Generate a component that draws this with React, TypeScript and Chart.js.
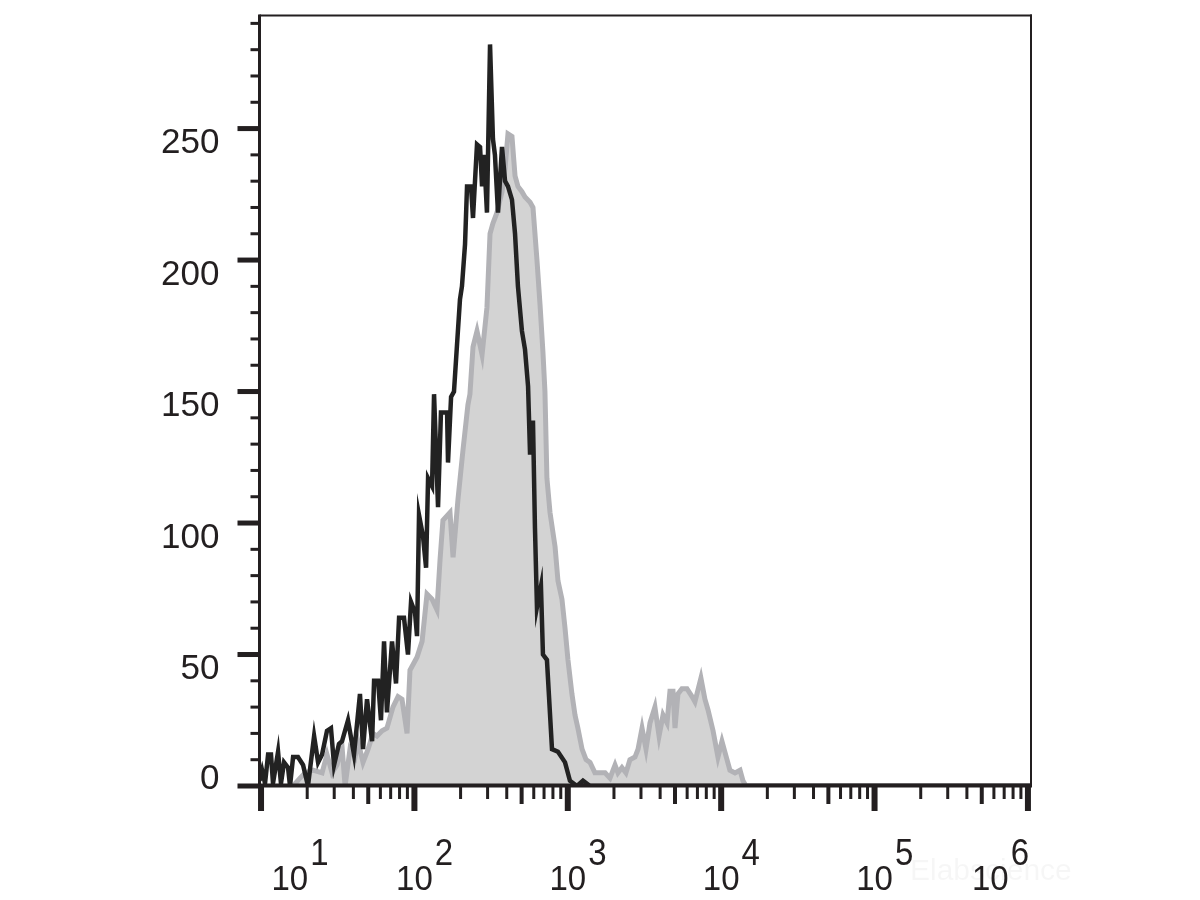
import React, { useEffect, useRef } from "react";
import { Chart, registerables } from "chart.js";

Chart.register(...registerables);

// log10 of fluorescence intensity
const blackLog10FL = [
  0.99, 1.007, 1.026, 1.046, 1.065, 1.078, 1.111, 1.13, 1.15, 1.176, 1.189, 1.209, 1.241, 1.274, 1.306,
  1.346, 1.372, 1.398, 1.43, 1.456, 1.476, 1.508, 1.528, 1.567, 1.606, 1.645, 1.665, 1.691, 1.724, 1.737,
  1.763, 1.782, 1.802, 1.821, 1.854, 1.88, 1.9, 1.932, 1.958, 1.978, 2.004, 2.017, 2.03, 2.056, 2.076,
  2.089, 2.115, 2.128, 2.154, 2.173, 2.213, 2.219, 2.239, 2.258, 2.278, 2.297, 2.31, 2.33, 2.343, 2.369,
  2.382, 2.408, 2.428, 2.441, 2.454, 2.473, 2.493, 2.512, 2.525, 2.545, 2.571, 2.591, 2.61, 2.636, 2.656,
  2.675, 2.701, 2.721, 2.741, 2.754, 2.773, 2.786, 2.799, 2.825, 2.838, 2.864, 2.897, 2.936, 2.982, 3.014,
  3.06, 3.099, 3.145, 6.05,
];
const blackCounts = [
  2, 6, 1, 12, 12, 1, 13, 1, 9, 7, 0, 11, 11, 8, 0,
  19, 9, 12, 21, 22, 8, 16, 17, 25, 12, 35, 14, 33, 17, 40,
  40, 25, 55, 28, 55, 39, 64, 64, 50, 70, 66, 57, 103, 95, 83,
  117, 114, 149, 106, 142, 142, 123, 148, 150, 168, 185, 190, 206, 228, 228,
  216, 244, 243, 228, 240, 218, 282, 246, 240, 218, 243, 230, 228, 223, 210,
  190, 173, 166, 152, 126, 139, 98, 68, 76, 50, 48, 14, 13, 9, 2,
  0, 2, 0, 0,
];

const grayLog10FL = [
  1.209, 1.254, 1.287, 1.339, 1.398, 1.43, 1.463, 1.495, 1.528, 1.548, 1.58, 1.613, 1.632, 1.665, 1.698,
  1.73, 1.756, 1.789, 1.821, 1.86, 1.893, 1.919, 1.952, 1.971, 2.017, 2.05, 2.082, 2.115, 2.147, 2.167,
  2.186, 2.232, 2.252, 2.284, 2.317, 2.349, 2.362, 2.382, 2.408, 2.441, 2.473, 2.493, 2.512, 2.538, 2.571,
  2.591, 2.61, 2.636, 2.656, 2.675, 2.701, 2.721, 2.754, 2.773, 2.799, 2.819, 2.838, 2.851, 2.864, 2.884,
  2.917, 2.936, 2.962, 2.982, 3.001, 3.027, 3.047, 3.066, 3.093, 3.119, 3.145, 3.177, 3.21, 3.243, 3.275,
  3.308, 3.327, 3.353, 3.379, 3.405, 3.438, 3.458, 3.484, 3.51, 3.536, 3.568, 3.595, 3.621, 3.647, 3.666,
  3.686, 3.699, 3.718, 3.744, 3.777, 3.81, 3.829, 3.868, 3.894, 3.914, 3.947, 3.979, 4.005, 4.038, 4.057,
  4.09, 4.123, 4.142, 4.162, 6.05,
];
const grayCounts = [
  0, 3, 5, 6, 5, 12, 5, 8, 15, 0, 14, 11, 17, 9, 14,
  20, 19, 21, 22, 30, 34, 33, 20, 44, 49, 55, 73, 71, 67, 86,
  101, 104, 87, 109, 128, 145, 149, 167, 173, 164, 182, 210, 214, 218, 226,
  235, 248, 247, 232, 228, 226, 224, 222, 220, 200, 183, 165, 150, 117, 104,
  91, 78, 71, 60, 48, 35, 27, 22, 14, 10, 9, 5, 5, 5, 3,
  8, 5, 7, 5, 10, 11, 14, 22, 14, 24, 30, 19, 27, 24, 36,
  36, 22, 35, 37, 37, 34, 32, 41, 33, 29, 21, 11, 17, 10, 6,
  5, 6, 2, 0, 0,
];

const yTicks = [0, 10, 20, 30, 40, 50, 60, 70, 80, 90, 100, 110, 120, 130, 140, 150, 160, 170, 180, 190, 200, 210, 220, 230, 240, 250, 260, 270, 280, 290];
const yTickLabels = [0, 50, 100, 150, 200, 250];
const xDecadeExponents = [1, 2, 3, 4, 5, 6];

const INK = "#231f20";
const FONT = '"Liberation Sans", Arial, sans-serif';

function toPoints(logs: number[], counts: number[]) {
  return logs.map((l, i) => ({ x: Math.pow(10, l), y: counts[i] }));
}

const axesPlugin = {
  id: "flowAxes",
  afterDatasetsDraw(chart: any) {
    const { ctx, chartArea: a, scales } = chart;
    const x = scales.x;
    const y = scales.y;
    ctx.save();
    ctx.fillStyle = INK;

    // frame
    ctx.fillRect(a.left - 1.5, a.top - 1, 3, a.bottom - a.top + 2);
    ctx.fillRect(a.left - 1.5, a.bottom - 2.5, a.right - a.left + 2.5, 4);
    ctx.fillRect(a.left, a.top - 1, a.right - a.left + 1, 2);
    ctx.fillRect(a.right - 1, a.top - 1, 2, a.bottom - a.top + 1);

    // y ticks
    for (const v of yTicks) {
      const py = y.getPixelForValue(v);
      const major = yTickLabels.includes(v);
      const len = major ? 22 : 9;
      const t = major ? 5 : 3;
      ctx.fillRect(a.left - len, py - t / 2, len, t);
    }
    // x ticks
    for (const k of xDecadeExponents.concat([0])) {
      for (let m = 1; m <= 9; m++) {
        const v = m * Math.pow(10, k);
        if (v < x.min || v > x.max) continue;
        const px = x.getPixelForValue(v);
        let len = 13, t = 3;
        if (m === 1) { len = 25; t = 6; }
        else if (m === 5) { len = 18; t = 4; }
        ctx.fillRect(px - t / 2, a.bottom, t, len);
      }
    }

    // watermark
    ctx.fillStyle = "rgba(0,0,0,0.035)";
    ctx.font = `30px ${FONT}`;
    ctx.textAlign = "left";
    ctx.textBaseline = "alphabetic";
    ctx.fillText("Elabscience", 910, 880);

    // y labels
    ctx.fillStyle = INK;
    ctx.font = `35px ${FONT}`;
    ctx.textAlign = "right";
    for (const v of yTickLabels) {
      const py = y.getPixelForValue(v);
      const base = Math.min(py + 24.5, a.bottom + 2.5);
      ctx.fillText(String(v), a.left - 40, base);
    }

    // x labels: 10 with superscript exponent (slightly tall glyphs)
    ctx.font = `33px ${FONT}`;
    ctx.textAlign = "left";
    for (const k of xDecadeExponents) {
      const px = x.getPixelForValue(Math.pow(10, k));
      const w10 = ctx.measureText("10").width;
      const we = ctx.measureText(String(k)).width;
      const gap = 1;
      let left = px - w10 / 2;
      left = Math.max(left, a.left + 12);
      left = Math.min(left, a.right - 3 - (w10 + gap + we));
      ctx.save();
      ctx.translate(0, 890);
      ctx.scale(1, 1.07);
      ctx.fillText("10", left, 0);
      ctx.restore();
      ctx.save();
      ctx.translate(0, 865);
      ctx.scale(1, 1.1);
      ctx.fillText(String(k), left + w10 + gap + 1, 0);
      ctx.restore();
    }
    ctx.restore();
  },
};

export default function App() {
  const ref = useRef<HTMLCanvasElement | null>(null);
  useEffect(() => {
    if (!ref.current) return;
    const chart = new Chart(ref.current, {
      type: "line",
      data: {
        datasets: [
          {
            label: "Stained",
            data: toPoints(blackLog10FL, blackCounts),
            borderColor: "#222222",
            backgroundColor: "transparent",
            borderWidth: 4.5,
            fill: false,
            pointRadius: 0,
            tension: 0,
          },
          {
            label: "Isotype",
            data: toPoints(grayLog10FL, grayCounts),
            borderColor: "#b2b2b6",
            backgroundColor: "#d3d3d3",
            borderWidth: 5,
            fill: "origin",
            pointRadius: 0,
            tension: 0,
          },
        ],
      },
      options: {
        responsive: false,
        animation: false,
        events: [],
        layout: { padding: { left: 259.5, top: 15.5, right: 169, bottom: 114 } },
        scales: {
          x: { type: "logarithmic", min: Math.pow(10, 0.99), max: Math.pow(10, 6.02), display: false },
          y: { type: "linear", min: 0, max: 293, display: false },
        },
        plugins: { legend: { display: false }, tooltip: { enabled: false } },
      },
      plugins: [axesPlugin],
    });
    return () => chart.destroy();
  }, []);
  return (
    <div style={{ position: "fixed", left: 0, top: 0, width: 1200, height: 900, background: "#fff" }}>
      <canvas ref={ref} width={1200} height={900} style={{ width: 1200, height: 900 }} />
    </div>
  );
}
